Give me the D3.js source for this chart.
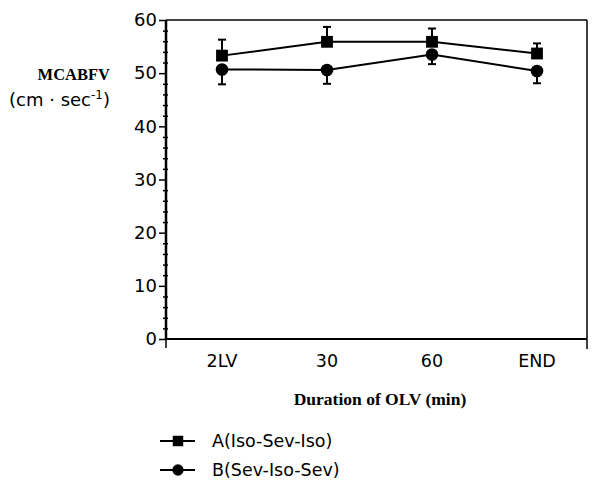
<!DOCTYPE html>
<html>
<head>
<meta charset="utf-8">
<script src="https://cdn.jsdelivr.net/npm/d3@7"></script>
<style>
  body { margin: 0; background: #fff; }
  svg { display: block; }
</style>
</head>
<body>
<div id="chart-area"></div>
<script>
// durations on the x axis
const categories = ["2LV", "30", "60", "END"];
// group A (Iso-Sev-Iso), mean and error
const seriesA = [53.3, 55.9, 55.9, 53.7];
const errA = [3.0, 2.8, 2.5, 1.9];
// group B (Sev-Iso-Sev)
const seriesB = [50.7, 50.6, 53.5, 50.4];
const errB = [2.8, 2.6, 1.8, 2.3];
const yTicks = [0, 10, 20, 30, 40, 50, 60];
const legendLabels = ["A(Iso-Sev-Iso)", "B(Sev-Iso-Sev)"];

var W = 598, H = 482;
var pLeft = 166, pRight = 587, pTop = 20, pBottom = 339;
var sans = "'DejaVu Sans', sans-serif";
var serif = "'Liberation Serif', serif";

var svg = d3.select("#chart-area").append("svg")
    .attr("width", W)
    .attr("height", H);

var x = d3.scalePoint()
    .domain(categories)
    .range([222, 537]);

var y = d3.scaleLinear()
    .domain([0, 60])
    .range([pBottom, pTop]);

// frame: top and right border
svg.append("line")
    .attr("x1", pLeft).attr("x2", pRight)
    .attr("y1", pTop).attr("y2", pTop)
    .attr("stroke", "#000").attr("stroke-width", 1.5);
svg.append("line")
    .attr("x1", pRight).attr("x2", pRight)
    .attr("y1", pTop).attr("y2", pBottom + 10)
    .attr("stroke", "#000").attr("stroke-width", 1.5);

// bottom axis line
svg.append("line")
    .attr("x1", pLeft).attr("x2", pRight)
    .attr("y1", pBottom).attr("y2", pBottom)
    .attr("stroke", "#000").attr("stroke-width", 2);
svg.append("line")
    .attr("x1", pLeft).attr("x2", pLeft)
    .attr("y1", pBottom).attr("y2", pBottom + 9)
    .attr("stroke", "#000").attr("stroke-width", 1.5);

// y axis with minor ticks
var yMinor = d3.axisLeft(y)
    .tickValues(d3.range(0, 61, 2).filter(function(d){ return d % 10 !== 0; }))
    .tickSize(3)
    .tickFormat("");
svg.append("g")
    .attr("transform", "translate(" + (pLeft + 2) + ",0)")
    .call(yMinor)
    .call(function(g){ g.select(".domain").remove(); })
    .selectAll("line").attr("stroke-width", 1.5).attr("x2", -5);

var yAxis = d3.axisLeft(y)
    .tickValues(yTicks)
    .tickSize(7)
    .tickPadding(2);
var yg = svg.append("g")
    .attr("transform", "translate(" + pLeft + ",0)")
    .call(yAxis);
yg.select(".domain").attr("stroke-width", 2.5).attr("d", "M0," + pTop + "V" + pBottom);
yg.selectAll("line").attr("stroke-width", 1.5);
yg.selectAll("text")
    .attr("font-family", sans)
    .attr("font-size", "18px")
    .attr("fill", "#000");

// x tick labels
svg.append("g").selectAll("text")
    .data(categories)
    .enter().append("text")
    .attr("x", function(d){ return x(d); })
    .attr("y", pBottom + 28)
    .attr("text-anchor", "middle")
    .attr("font-family", sans)
    .attr("font-size", "17.5px")
    .text(function(d){ return d; });

// axis titles
svg.append("text")
    .attr("x", 110).attr("y", 80)
    .attr("text-anchor", "end")
    .attr("font-family", serif)
    .attr("font-weight", "bold")
    .attr("font-size", "16.5px")
    .text("MCABFV");
var unit = svg.append("text")
    .attr("x", 110).attr("y", 106)
    .attr("text-anchor", "end")
    .attr("font-family", sans)
    .attr("font-size", "18px");
unit.append("tspan").text("(cm \u00b7 sec");
unit.append("tspan").attr("dy", -7).attr("font-size", "12px").text("-1");
unit.append("tspan").attr("dy", 7).text(")");

svg.append("text")
    .attr("x", 380).attr("y", 405)
    .attr("text-anchor", "middle")
    .attr("font-family", serif)
    .attr("font-weight", "bold")
    .attr("font-size", "17.5px")
    .text("Duration of OLV (min)");

var line = d3.line()
    .x(function(d, i){ return x(categories[i]); })
    .y(function(d){ return y(d); });

function drawSeries(vals, errs, shape, upward) {
    var g = svg.append("g");
    g.append("path")
        .datum(vals)
        .attr("d", line)
        .attr("fill", "none")
        .attr("stroke", "#000")
        .attr("stroke-width", 2);
    vals.forEach(function(v, i){
        var cx = x(categories[i]);
        var end = upward ? v + errs[i] : v - errs[i];
        g.append("line")
            .attr("x1", cx).attr("x2", cx)
            .attr("y1", y(v)).attr("y2", y(end))
            .attr("stroke", "#000").attr("stroke-width", 2);
        g.append("line")
            .attr("x1", cx - 4).attr("x2", cx + 4)
            .attr("y1", y(end)).attr("y2", y(end))
            .attr("stroke", "#000").attr("stroke-width", 2);
    });
    g.selectAll(".pt")
        .data(vals)
        .enter().append("path")
        .attr("transform", function(d, i){ return "translate(" + x(categories[i]) + "," + y(d) + ")"; })
        .attr("d", d3.symbol().type(shape).size(shape === d3.symbolSquare ? 140 : 125))
        .attr("fill", "#000");
}

drawSeries(seriesB, errB, d3.symbolCircle, false);
drawSeries(seriesA, errA, d3.symbolSquare, true);

// legend
var legendShapes = [d3.symbolSquare, d3.symbolCircle];
var lg = svg.append("g").selectAll("g")
    .data(legendLabels)
    .enter().append("g")
    .attr("transform", function(d, i){ return "translate(0," + (441 + i * 29) + ")"; });
lg.append("line")
    .attr("x1", 160).attr("x2", 195)
    .attr("stroke", "#000").attr("stroke-width", 2);
lg.append("path")
    .attr("transform", "translate(178,0)")
    .attr("d", function(d, i){ return d3.symbol().type(legendShapes[i]).size(i === 0 ? 110 : 100)(); })
    .attr("fill", "#000");
lg.append("text")
    .attr("x", 212).attr("y", 6)
    .attr("font-family", sans)
    .attr("font-size", "17.5px")
    .text(function(d){ return d; });
</script>
</body>
</html>
